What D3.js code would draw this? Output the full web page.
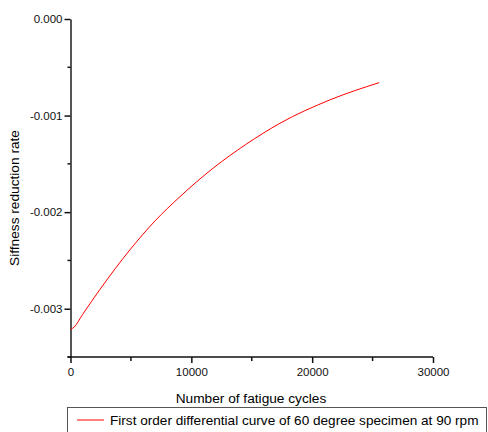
<!DOCTYPE html>
<html>
<head>
<meta charset="utf-8">
<script src="https://cdn.jsdelivr.net/npm/d3@7"></script>
<style>
  body { margin: 0; background: #fff; }
  text { font-family: "Liberation Sans", Arial, sans-serif; }
</style>
</head>
<body>
<script>
// cycles vs stiffness reduction rate
var cycles = [0, 300, 1000, 2440, 4920, 7000, 9057, 11810, 14500, 17330, 21460, 25540];
var rates = [-0.003215, -0.00319, -0.00306, -0.0028, -0.00239, -0.00209, -0.00184, -0.001544, -0.00130, -0.00108, -0.000838, -0.000659];
var xTicks = [0, 10000, 20000, 30000];
var yTicks = [0, -0.001, -0.002, -0.003];
var legendLabel = "First order differential curve of 60 degree specimen at 90 rpm";

var width = 488, height = 432;
var margin = {top: 19, left: 70.5, right: 55, bottom: 75};

var svg = d3.select("body")
  .append("svg")
  .attr("width", width)
  .attr("height", height);

var xScale = d3.scaleLinear()
  .domain([0, 30000])
  .range([margin.left, 433]);

var yScale = d3.scaleLinear()
  .domain([-0.0035, 0])
  .range([357, margin.top]);

//Y axis
var yAxis = d3.axisLeft(yScale)
  .tickValues(yTicks)
  .tickFormat(function(d) { return d.toFixed(3).replace("\u2212", "-"); })
  .tickSize(6)
  .tickSizeOuter(0);

var gy = svg.append("g")
  .attr("transform", "translate(" + xScale(0) + ",0)")
  .call(yAxis);
gy.select(".domain").attr("stroke", "#555").attr("stroke-width", 2);
gy.selectAll(".tick line").attr("stroke", "#111").attr("stroke-width", 1.5);
gy.selectAll(".tick text").attr("font-size", 11.5).attr("fill", "#111")
  .attr("font-family", "Liberation Sans, Arial, sans-serif").attr("x", -8);

// minor y ticks
gy.selectAll(".minor")
  .data([-0.0005, -0.0015, -0.0025, -0.0035])
  .enter()
  .append("line")
  .attr("x1", -3).attr("x2", 0)
  .attr("y1", function(d) { return yScale(d); })
  .attr("y2", function(d) { return yScale(d); })
  .attr("stroke", "#111").attr("stroke-width", 1.5);

//X axis
var xAxis = d3.axisBottom(xScale)
  .tickValues(xTicks)
  .tickFormat(d3.format("d"))
  .tickSize(6)
  .tickSizeOuter(0);

var gx = svg.append("g")
  .attr("transform", "translate(0," + yScale(-0.0035) + ")")
  .call(xAxis);
gx.select(".domain").attr("stroke", "#111").attr("stroke-width", 1.5)
  .attr("d", "M" + (xScale(0) - 3) + ",0H" + xScale(30000));
gx.selectAll(".tick line").attr("stroke", "#111").attr("stroke-width", 1.5);
gx.selectAll(".tick text").attr("font-size", 11.5).attr("fill", "#111")
  .attr("font-family", "Liberation Sans, Arial, sans-serif").attr("y", 11);

gx.selectAll(".minor")
  .data([5000, 15000, 25000])
  .enter()
  .append("line")
  .attr("x1", function(d) { return xScale(d); })
  .attr("x2", function(d) { return xScale(d); })
  .attr("y1", 0).attr("y2", 4)
  .attr("stroke", "#111").attr("stroke-width", 1.5);

// axis titles
svg.append("text")
  .attr("x", 251)
  .attr("y", 403)
  .attr("text-anchor", "middle")
  .attr("font-size", 13.7)
  .text("Number of fatigue cycles");

svg.append("text")
  .attr("transform", "translate(19,198) rotate(-90)")
  .attr("text-anchor", "middle")
  .attr("font-size", 13.7)
  .text("Siffness reduction rate");

// curve
var line = d3.line()
  .x(function(d, i) { return xScale(cycles[i]); })
  .y(function(d) { return yScale(d); })
  .curve(d3.curveMonotoneX);

svg.append("path")
  .datum(rates)
  .attr("d", line)
  .attr("fill", "none")
  .attr("stroke", "#ff0000")
  .attr("stroke-width", 1);

// legend
var lg = svg.append("g");
lg.append("rect")
  .attr("x", 67.5).attr("y", 407.5)
  .attr("width", 419).attr("height", 30)
  .attr("fill", "#fff")
  .attr("stroke", "#555")
  .attr("stroke-width", 1);
lg.append("line")
  .attr("x1", 77).attr("x2", 104)
  .attr("y1", 420).attr("y2", 420)
  .attr("stroke", "#ff0000").attr("stroke-width", 1);
lg.append("text")
  .attr("x", 110).attr("y", 425)
  .attr("font-size", 13.6)
  .text(legendLabel);
</script>
</body>
</html>
